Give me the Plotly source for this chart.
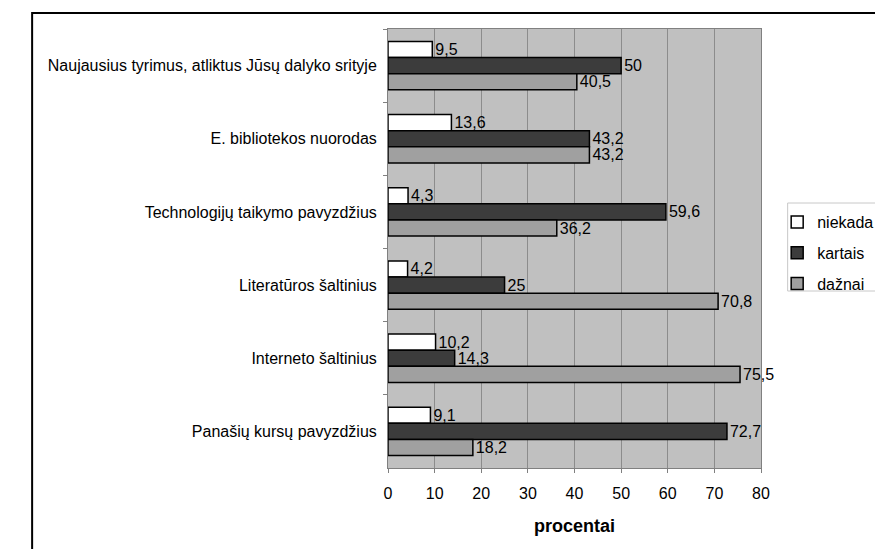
import plotly.graph_objects as go

categories = [
    "Naujausius tyrimus, atliktus Jūsų dalyko srityje",
    "E. bibliotekos nuorodas",
    "Technologijų taikymo pavyzdžius",
    "Literatūros šaltinius",
    "Interneto šaltinius",
    "Panašių kursų pavyzdžius",
]
series_names = ["niekada", "kartais", "dažnai"]
niekada = [9.5, 13.6, 4.3, 4.2, 10.2, 9.1]
kartais = [50, 43.2, 59.6, 25, 14.3, 72.7]
daznai = [40.5, 43.2, 36.2, 70.8, 75.5, 18.2]
x_ticks = [0, 10, 20, 30, 40, 50, 60, 70, 80]
colors = ["#ffffff", "#3c3c3c", "#a0a0a0"]

FONT = "Liberation Sans, Arial, sans-serif"
FS = 16


def fmt(v):
    s = f"{v:g}"
    return s.replace(".", ",")


fig = go.Figure()
for i, (name, vals) in enumerate(zip(series_names, [niekada, kartais, daznai])):
    fig.add_trace(go.Bar(
        y=categories, x=vals, orientation="h", name=name,
        marker=dict(color=colors[i], line=dict(color="#000000", width=1.5)),
        text=[fmt(v) for v in vals], textposition="outside",
        constraintext="none",
        textfont=dict(family=FONT, size=FS, color="#000000"),
        cliponaxis=False, legendgroup=name,
    ))

W, H = 883, 549
L, R, T, B = 380, 111, 21, 89
pw, ph = W - L - R, H - T - B


def px_x(p):
    return (p - L) / pw


def px_y(p):
    return (H - B - p) / ph


fig.update_layout(
    width=W, height=H,
    margin=dict(l=L, r=R, t=T, b=B, pad=0),
    paper_bgcolor="#ffffff", plot_bgcolor="#c0c0c0",
    barmode="group", bargap=0.34, bargroupgap=0,
    font=dict(family=FONT, size=FS, color="#000000"),
    showlegend=True,
    legend=dict(
        x=px_x(789), y=px_y(197), xanchor="left", yanchor="top",
        bgcolor="rgba(0,0,0,0)", borderwidth=0, tracegroupgap=7,
        font=dict(family=FONT, size=FS, color="#000000"),
    ),
    xaxis=dict(
        range=[0, 80], tickvals=x_ticks, ticktext=[str(t) for t in x_ticks],
        showgrid=True, gridcolor="#8c8c8c", gridwidth=1,
        showline=True, linecolor="#808080", linewidth=1, mirror=True,
        ticks="outside", ticklen=4, tickcolor="#808080",
        zeroline=False, ticklabelstandoff=7,
        title=dict(text="<b>procentai</b>", standoff=18,
                   font=dict(family=FONT, size=18, color="#000000")),
        tickfont=dict(family=FONT, size=FS, color="#000000"),
    ),
    yaxis=dict(
        autorange="reversed", showgrid=False,
        showline=True, linecolor="#808080", linewidth=1, mirror=True,
        ticks="outside", ticklen=4, tickcolor="#808080", tickson="boundaries",
        tickfont=dict(family=FONT, size=FS, color="#000000"),
        ticklabelstandoff=7,
    ),
    shapes=[
        dict(type="rect", xref="paper", yref="paper",
             x0=px_x(6), x1=px_x(900), y0=px_y(560), y1=px_y(5),
             line=dict(color="#000000", width=2), fillcolor="rgba(0,0,0,0)"),
        dict(type="rect", xref="paper", yref="paper",
             x0=px_x(800), x1=px_x(895), y0=px_y(283), y1=px_y(195),
             line=dict(color="#c8c8c8", width=1), fillcolor="rgba(0,0,0,0)"),
    ],
)

fig.write_html("out.html")
